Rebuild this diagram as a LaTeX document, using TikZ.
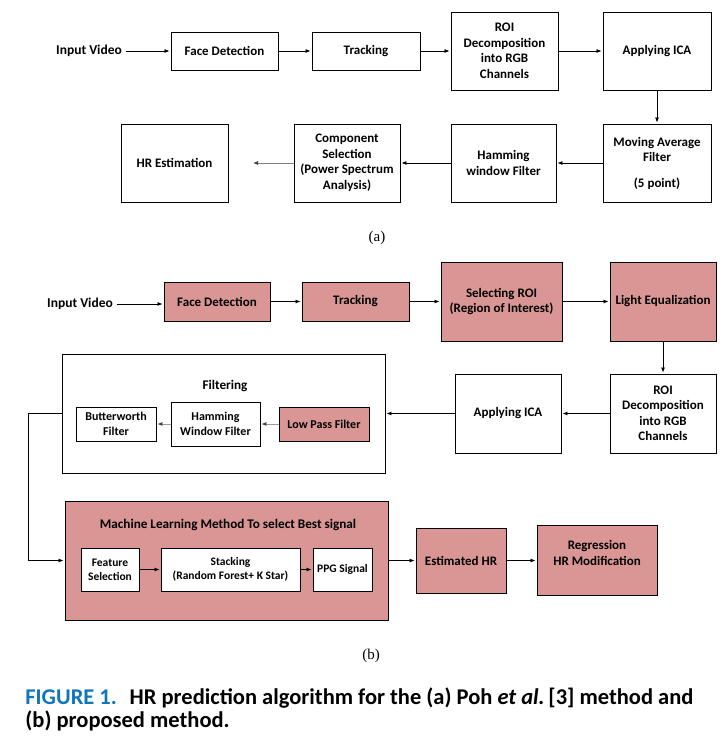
\documentclass[tikz,border=0pt]{standalone}
\usepackage{fontspec}
\setmainfont{Carlito}
\newfontfamily\tagfont{Liberation Serif}
\usetikzlibrary{arrows.meta, positioning}

\definecolor{boxpink}{RGB}{217,150,148}
\definecolor{capblue}{RGB}{16,118,186}

\tikzset{
  blk/.style={draw, line width=0.9pt, align=center, inner sep=2pt, font=\bfseries\fontsize{13}{15.5}\selectfont},
  hot/.style={blk, fill=boxpink},
  inbox/.style={blk, fill=white, font=\bfseries\fontsize{11.5}{14}\selectfont},
  fbox/.style={font=\bfseries\fontsize{12}{14.5}\selectfont},
  ttl/.style={font=\bfseries\fontsize{13.2}{15}\selectfont},
  sub/.style={font=\tagfont\fontsize{15}{17}\selectfont},
  >={Latex[length=5pt,width=4pt]}
}

\begin{document}
\begin{tikzpicture}[x=1pt, y=-1pt, shorten >=1pt, node distance=140pt, on grid, line width=0.8pt]
  \useasboundingbox (0,0) rectangle (721,741);

  % (a)
  \node[font=\bfseries\fontsize{13.5}{15}\selectfont] (inpa) at (89,51) {Input Video};
  \node[blk, minimum width=107pt, minimum height=38pt] (fda) at (224.5,51) {Face Detection};
  \node[blk, minimum width=108pt, minimum height=38pt] (trka) [right=141.5pt of fda] {Tracking};
  \node[blk, minimum width=107pt, minimum height=78pt] (roia) [right=138.5pt of trka] {ROI\\Decomposition\\into RGB\\Channels};
  \node[blk, minimum width=108pt, minimum height=78pt] (icaa) [right=152.5pt of roia] {Applying ICA};
  \node[blk, minimum width=108pt, minimum height=78pt] (mava) [below=112pt of icaa] {Moving Average\\Filter\\[10pt](5 point)};
  \node[blk, minimum width=105pt, minimum height=78pt] (hama) [left=153.5pt of mava] {Hamming\\window Filter};
  \node[blk, minimum width=106pt, minimum height=78pt] (csa) [left=156.5pt of hama] {Component\\Selection\\(Power Spectrum\\Analysis)};
  \node[blk, minimum width=107pt, minimum height=78pt] (hra) [left=172.5pt of csa] {HR Estimation};
  \coordinate (hrin) at (252,163);
  \node[sub] (taga) at (377,238) {(a)};

  \path[->]
  (inpa) edge (fda)
  (fda)  edge (trka)
  (trka) edge (roia)
  (roia) edge (icaa)
  (icaa) edge (mava)
  (mava) edge (hama)
  (hama) edge (csa);
  \draw[draw=gray, -{Latex[length=5pt,width=4pt,color=black!75]}] (csa) -- (hrin);

  % (b)
  \node[font=\bfseries\fontsize{13.5}{15}\selectfont] (inpb) at (80,304) {Input Video};
  \node[hot, minimum width=106pt, minimum height=39pt] (fdb) at (217,301.5) {Face Detection};
  \node[hot, minimum width=107pt, minimum height=39pt] (trkb) [right=138.5pt of fdb] {Tracking};
  \node[hot, minimum width=121pt, minimum height=79pt] (selb) [right=146pt of trkb] {Selecting ROI\\(Region of Interest)};
  \node[hot, minimum width=106pt, minimum height=79pt] (lightb) [right=161.5pt of selb] {Light Equalization};
  \node[blk, minimum width=106pt, minimum height=79pt] (roib) [below=112pt of lightb] {ROI\\Decomposition\\into RGB\\Channels};
  \node[blk, minimum width=106pt, minimum height=79pt] (icab) [left=155pt of roib] {Applying ICA};

  \node[blk, minimum width=323pt, minimum height=119pt] (filt) at (223.5,413.5) {};
  \node[ttl] (filtt) at (225,386) {Filtering};
  \node[hot, fbox, minimum width=90pt, minimum height=34pt] (lpf) at (324,424) {Low Pass Filter};
  \node[inbox, fbox, minimum width=89pt, minimum height=44pt] (hamb) at (215.5,424) {Hamming\\Window Filter};
  \node[inbox, fbox, minimum width=80pt, minimum height=34pt] (butb) at (116,424) {Butterworth\\Filter};

  \node[hot, minimum width=323pt, minimum height=119pt] (ml) at (226.5,560.5) {};
  \node[ttl] (mlt) at (228,525) {Machine Learning Method To select Best signal};
  \node[inbox, minimum width=58pt, minimum height=43pt] (feat) at (110,569.5) {Feature\\Selection};
  \node[inbox, minimum width=139pt, minimum height=43pt] (stack) at (230.5,569.5) {Stacking\\(Random Forest+ K Star)};
  \node[inbox, minimum width=59pt, minimum height=43pt] (ppg) at (342.5,569.5) {PPG Signal};

  \node[hot, minimum width=90pt, minimum height=65pt] (esthr) at (461,560.5) {Estimated HR};
  \node[hot, minimum width=120pt, minimum height=70pt] (reg) at (597,560.5) {Regression\\HR Modification\\~};
  \node[sub] (tagb) at (371,656) {(b)};

  \draw[->] (inpb.east) -- (inpb.east -| fdb.west);
  \path[->]
  (fdb)    edge (trkb)
  (trkb)   edge (selb)
  (selb)   edge (lightb)
  (lightb) edge (roib)
  (roib)   edge (icab)
  (icab)   edge (filt)
  (feat)   edge (stack)
  (stack)  edge (ppg)
  (ml)     edge (esthr)
  (esthr)  edge (reg);
  \path[draw=gray!80, -{Latex[length=5pt,width=4pt,color=black!75]}]
  (lpf)  edge (hamb)
  (hamb) edge (butb);
  \draw[->] (filt.west) -- ++(-33,0) |- (ml.west);

  % caption
  \node[anchor=base west, inner sep=0pt, font=\bfseries\fontsize{22.5}{23}\selectfont] (cap1) at (25,704)
    {{\color{capblue}FIGURE 1.}\hspace{6pt} HR prediction algorithm for the (a) Poh \textit{et al.}\,[3] method and};
  \node[anchor=base west, inner sep=0pt, font=\bfseries\fontsize{22.5}{23}\selectfont] (cap2) at (25,727)
    {(b) proposed method.};
\end{tikzpicture}
\end{document}
